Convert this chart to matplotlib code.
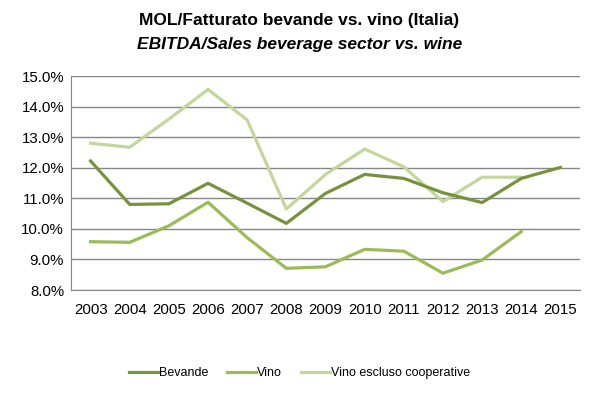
import matplotlib.pyplot as plt
from matplotlib.ticker import FuncFormatter

years = [str(y) for y in range(2003, 2016)]
bevande = [12.22, 10.80, 10.82, 11.49, 10.84, 10.18, 11.16, 11.78, 11.65, 11.18, 10.86, 11.65, 12.01]
vino = [9.58, 9.56, 10.10, 10.87, 9.71, 8.71, 8.76, 9.33, 9.27, 8.55, 8.98, 9.91]
vino_escl = [12.80, 12.67, 13.59, 14.56, 13.56, 10.65, 11.78, 12.61, 12.03, 10.89, 11.69, 11.69]

plt.rcParams['font.family'] = ['Liberation Sans', 'DejaVu Sans']

fig = plt.figure(figsize=(5.99, 3.93), dpi=100)
ax = fig.add_axes([71 / 599, 1 - 290 / 393, 509 / 599, 214 / 393])

x = list(range(len(years)))
ax.plot(x[:len(vino_escl)], vino_escl, color='#c3d69b', lw=2.3, label='Vino escluso cooperative', zorder=3)
ax.plot(x, bevande, color='#76923c', lw=2.3, label='Bevande', zorder=5)
ax.plot(x[:len(vino)], vino, color='#9bbb59', lw=2.3, label='Vino', zorder=4)

ax.set_xlim(-0.5, len(years) - 0.5)
ax.set_ylim(8, 15)
ax.set_yticks(range(8, 16))
ax.yaxis.set_major_formatter(FuncFormatter(lambda v, p: f'{v:.1f}%'))
ax.set_xticks(x)
ax.set_xticklabels(years)
ax.grid(axis='y', color='#868686', lw=1)
ax.set_axisbelow(True)
for s in ['top', 'right']:
    ax.spines[s].set_visible(False)
ax.spines['left'].set_color('#868686')
ax.spines['bottom'].set_color('#868686')
ax.tick_params(axis='both', length=0, labelsize=10.8, colors='black')
ax.tick_params(axis='x', pad=9)
ax.tick_params(axis='y', pad=5)

title_font = dict(ha='center', va='center', fontsize=12.5, fontweight='bold',
                  family=['Liberation Sans', 'DejaVu Sans'])
fig.text(0.5, 1 - 21 / 393, 'MOL/Fatturato bevande vs. vino (Italia)', **title_font)
fig.text(0.5, 1 - 45 / 393, 'EBITDA/Sales beverage sector vs. wine', style='italic', **title_font)

h, l = ax.get_legend_handles_labels()
order = [1, 2, 0]
fig.legend([h[i] for i in order], [l[i] for i in order], loc='center', bbox_to_anchor=(0.5, 1 - 373 / 393),
           ncol=3, frameon=False, fontsize=9, handlelength=2.3, handletextpad=0.1, columnspacing=1.5)

fig.savefig('out.png', dpi=100)
